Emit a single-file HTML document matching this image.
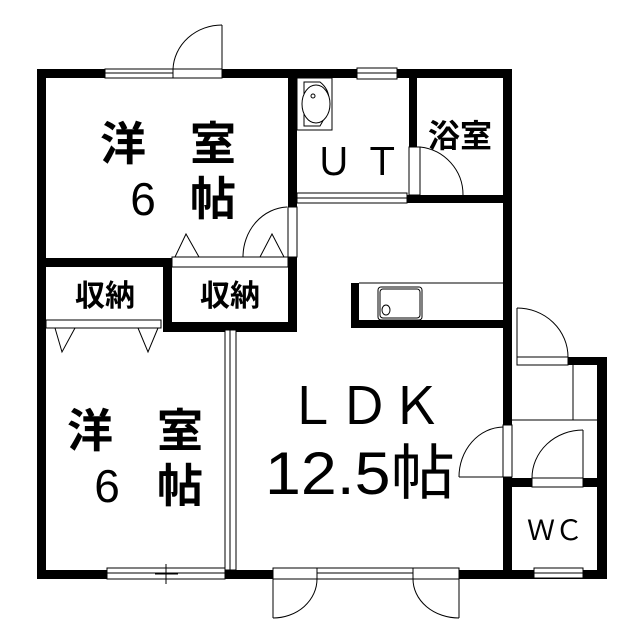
<!DOCTYPE html>
<html><head><meta charset="utf-8"><style>
html,body{margin:0;padding:0;background:#fff;}
svg{display:block}
text{font-family:"Liberation Sans","Noto Sans CJK JP",sans-serif;fill:#000}
.b{font-weight:bold}
</style></head><body>
<svg width="640" height="639" viewBox="0 0 640 639" xmlns="http://www.w3.org/2000/svg">
<g fill="#000">
<rect x="37" y="69" width="475" height="9"/>
<rect x="37" y="69" width="9" height="510"/>
<rect x="37" y="570" width="198" height="9"/>
<rect x="225" y="570" width="48" height="9"/>
<rect x="459" y="570" width="148" height="9"/>
<rect x="503" y="69" width="9" height="356"/>
<rect x="503" y="477" width="9" height="102"/>
<rect x="568" y="357" width="39" height="8"/>
<rect x="597" y="357" width="10" height="222"/>
<rect x="512" y="478" width="95" height="9"/>
<rect x="288" y="69" width="9" height="138"/>
<rect x="288" y="257" width="9" height="75"/>
<rect x="37" y="258" width="135" height="9"/>
<rect x="163" y="258" width="9" height="74"/>
<rect x="163" y="322" width="134" height="10"/>
<rect x="409" y="69" width="8" height="78"/>
<rect x="407" y="195" width="105" height="8"/>
<rect x="351" y="283" width="8" height="45"/>
<rect x="351" y="320" width="152" height="8"/>
</g>
<g fill="#fff" stroke="#000" stroke-width="1">
<rect x="105" y="69" width="68" height="9"/>
<line x1="105" y1="73" x2="173" y2="73"/>
<rect x="173" y="69" width="49" height="9"/>
<rect x="357" y="68" width="40" height="11"/>
<line x1="357" y1="73" x2="397" y2="73"/>
<rect x="297" y="193" width="110" height="10"/>
<line x1="297" y1="198" x2="407" y2="198"/>
<rect x="409" y="147" width="11" height="48"/>
<rect x="288" y="207" width="9" height="50"/>
<rect x="172" y="257" width="116" height="10"/>
<rect x="46" y="320" width="115" height="8"/>
<rect x="225" y="330" width="11" height="240"/>
<line x1="230" y1="330" x2="230" y2="570"/>
<rect x="107" y="568" width="118" height="11"/>
<line x1="107" y1="573" x2="225" y2="573"/>
<line x1="166" y1="564" x2="166" y2="584"/>
<line x1="155" y1="574" x2="178" y2="574"/>
<rect x="273" y="568" width="44" height="11"/>
<rect x="317" y="568" width="96" height="11"/>
<line x1="317" y1="573" x2="413" y2="573"/>
<rect x="413" y="568" width="46" height="11"/>
<rect x="517" y="357" width="51" height="8"/>
<rect x="503" y="425" width="9" height="52"/>
<rect x="532" y="478" width="51" height="9"/>
<rect x="534" y="568" width="49" height="10"/>
<line x1="534" y1="573" x2="583" y2="573"/>
<rect x="378" y="287" width="44" height="33" rx="3"/>
<rect x="380" y="289" width="40" height="29" rx="3"/>
<ellipse cx="386" cy="310" rx="4" ry="5"/>
<rect x="297" y="78" width="35" height="52"/>
<path d="M304 82 L320 82 Q338 96 320 126 L304 126 Z"/>
<ellipse cx="316" cy="104" rx="14" ry="19"/>
<circle cx="313" cy="96" r="2"/>
<line x1="573" y1="365" x2="573" y2="420"/>
<line x1="512" y1="420" x2="597" y2="420"/>
<line x1="359" y1="283" x2="503" y2="283"/>
</g>
<g fill="none" stroke="#000" stroke-width="1">
<line x1="222" y1="25" x2="222" y2="69"/>
<path d="M222 25 A49 46 0 0 0 173 69"/>
<path d="M420 147 A48 48 0 0 1 463 195"/>
<path d="M287 207 A46 50 0 0 0 243 257"/>
<line x1="517" y1="308" x2="517" y2="357"/>
<path d="M517 308 A51 49 0 0 1 568 357"/>
<line x1="583" y1="430" x2="583" y2="478"/>
<path d="M583 430 A51 48 0 0 0 532 478"/>
<line x1="459" y1="477" x2="503" y2="477"/>
<path d="M503 427 A45 50 0 0 0 459 477"/>
<line x1="273" y1="579" x2="273" y2="618"/>
<path d="M317 579 A44 39 0 0 1 273 618"/>
<line x1="459" y1="579" x2="459" y2="618"/>
<path d="M413 579 A46 39 0 0 0 459 618"/>
<path d="M175 257 L186 234 L199 257"/>
<path d="M260 257 L272 234 L284 257"/>
<path d="M55 328 L62 352 L75 328"/>
<path d="M138 328 L148 352 L158 328"/>
</g>
<g class="b">
<text x="123" y="160" font-size="46" text-anchor="middle">洋</text>
<text x="213" y="160" font-size="46" text-anchor="middle">室</text>
<text x="143" y="215" font-size="46" text-anchor="middle" font-weight="normal">6</text>
<text x="213" y="215" font-size="46" text-anchor="middle">帖</text>
<text x="90" y="447" font-size="46" text-anchor="middle">洋</text>
<text x="180" y="447" font-size="46" text-anchor="middle">室</text>
<text x="107" y="502" font-size="46" text-anchor="middle" font-weight="normal">6</text>
<text x="180" y="502" font-size="46" text-anchor="middle">帖</text>
<text x="105" y="306" font-size="30" text-anchor="middle">収納</text>
<text x="230" y="306" font-size="30" text-anchor="middle">収納</text>
<text x="358" y="175" font-size="38" text-anchor="middle" font-weight="normal">Ｕ Ｔ</text>
<text x="460" y="147" font-size="32" text-anchor="middle">浴室</text>
<text x="364" y="424" font-size="52" text-anchor="middle" font-weight="normal">ＬＤＫ</text>
<text x="360" y="494" font-size="60" text-anchor="middle" textLength="190" lengthAdjust="spacingAndGlyphs" font-weight="normal">12.5帖</text>
<text x="555" y="540" font-size="28" text-anchor="middle" font-weight="normal">ＷＣ</text>
</g>
</svg>
</body></html>
